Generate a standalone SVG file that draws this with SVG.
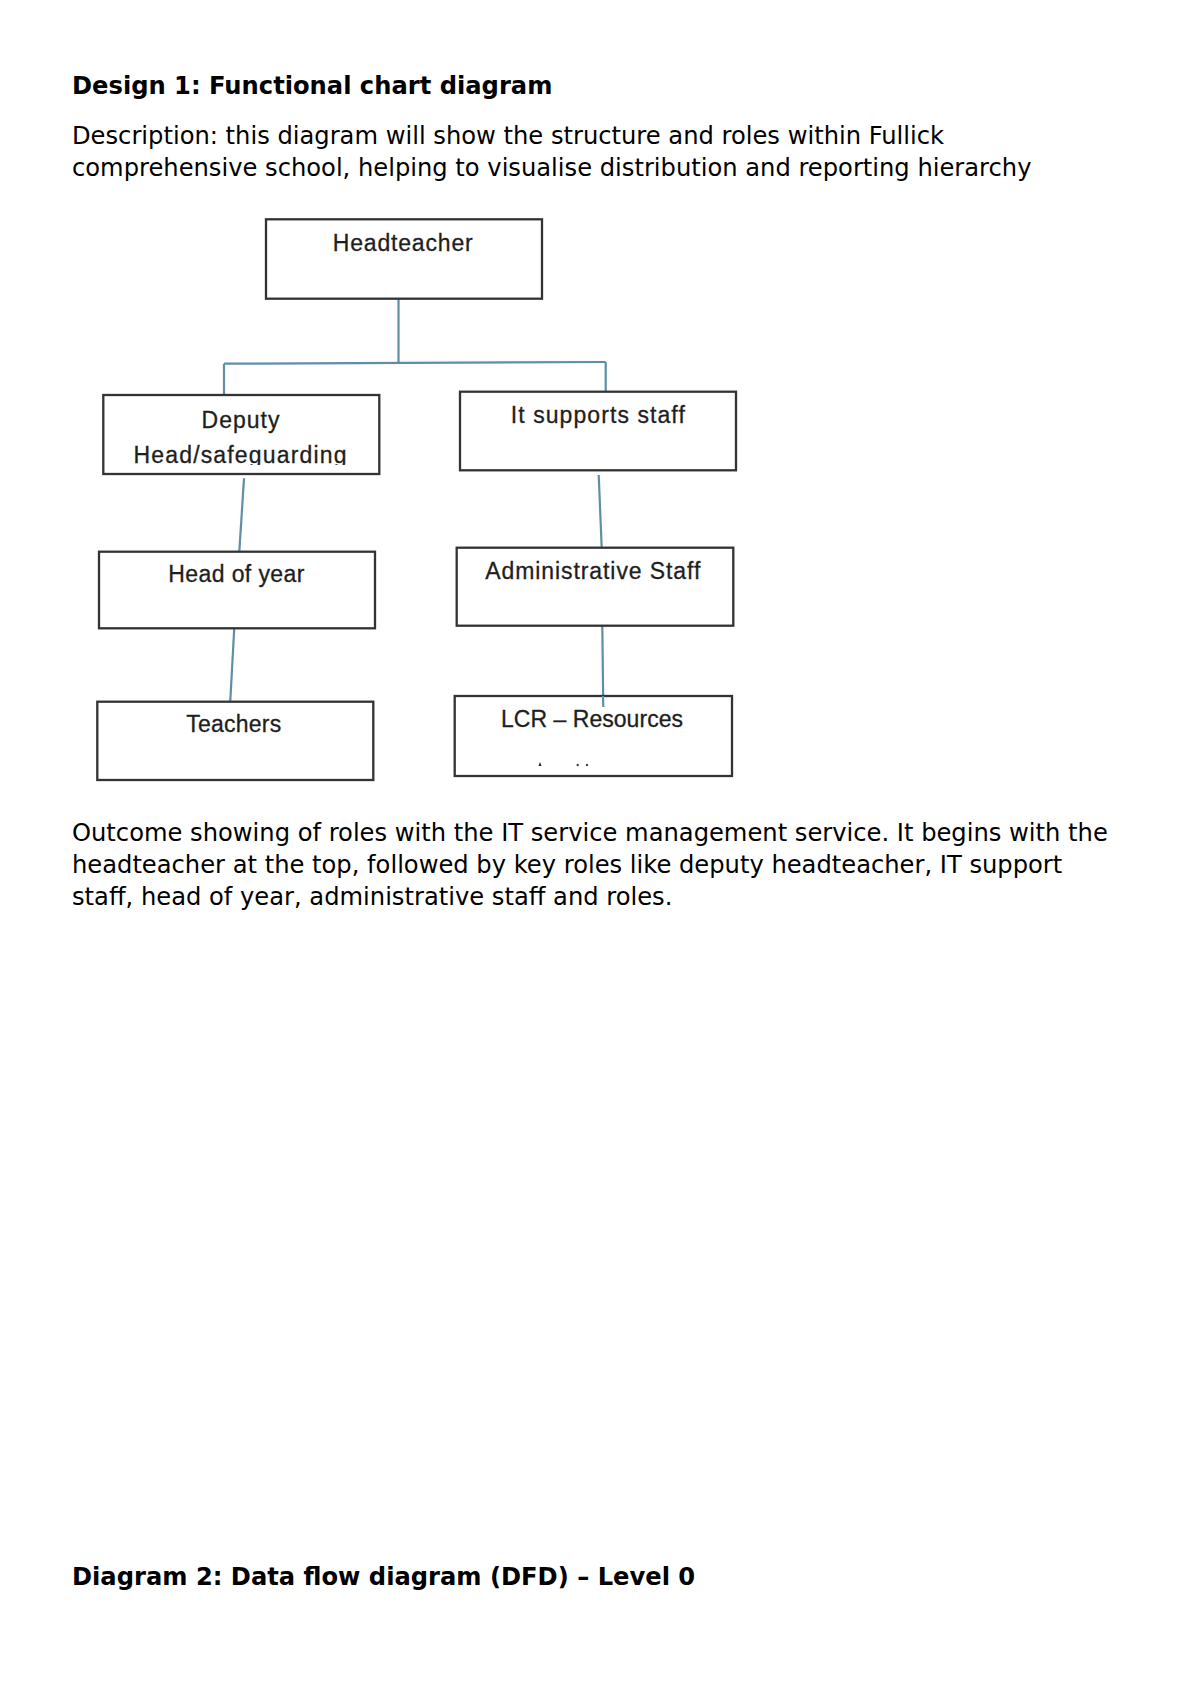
<svg xmlns="http://www.w3.org/2000/svg" width="1200" height="1696" viewBox="0 0 1200 1696">
<style>
.doc{font-family:"DejaVu Sans",Verdana,sans-serif;font-size:24.2px;fill:#000}
.bold{font-weight:bold}
.box{fill:#fff;stroke:#333;stroke-width:2.3}
.lbl{font-family:"Liberation Sans",Arial,sans-serif;font-size:23px;fill:#1e1e1e;text-anchor:middle;stroke:#1e1e1e;stroke-width:0.3}
.con{stroke:#5f8ea6;stroke-width:2.2;fill:none}
</style>
<defs>
<clipPath id="depClip"><rect x="100" y="395" width="285" height="70"/></clipPath>
</defs>
<rect width="1200" height="1696" fill="#fff"/>
<g id="texts">
<text class="doc bold" x="72" y="94">Design 1: Functional chart diagram</text>
<text class="doc" x="72" y="144">Description: this diagram will show the structure and roles within Fullick</text>
<text class="doc" x="72" y="175.5">comprehensive school, helping to visualise distribution and reporting hierarchy</text>
<text class="doc" x="72" y="841">Outcome showing of roles with the IT service management service. It begins with the</text>
<text class="doc" x="72" y="872.5">headteacher at the top, followed by key roles like deputy headteacher, IT support</text>
<text class="doc" x="72" y="905">staff, head of year, administrative staff and roles.</text>
<text class="doc bold" x="72" y="1585">Diagram 2: Data flow diagram (DFD) – Level 0</text>
</g>
<g id="connectors">
<path class="con" d="M398.5 298.7 L398.5 363"/>
<path class="con" d="M224 363.7 L605.7 362"/>
<path class="con" d="M224 363.7 L224 400.7"/>
<path class="con" d="M605.7 362 L605.7 391.7"/>
<path class="con" d="M244 478.3 L239.3 551.7"/>
<path class="con" d="M234.3 627.3 L230 706"/>
<path class="con" d="M598.7 475 L601.7 547.7"/>
<path class="con" d="M602.3 625.7 L603.3 707"/>
</g>
<g id="headteacher">
<rect class="box" x="266" y="219.3" width="276" height="79.4"/>
<text class="lbl" x="402.7" y="251" textLength="140">Headteacher</text>
</g>
<g id="deputy">
<rect class="box" x="103.3" y="395" width="276" height="79"/>
<text class="lbl" x="240.5" y="427.7" textLength="78">Deputy</text>
<text class="lbl" x="240" y="462.7" textLength="213" clip-path="url(#depClip)">Head/safeguarding</text>
</g>
<g id="it-support">
<rect class="box" x="460" y="391.7" width="276" height="78.6"/>
<text class="lbl" x="597.8" y="422.7" textLength="174">It supports staff</text>
</g>
<g id="head-of-year">
<rect class="box" x="99" y="551.7" width="276" height="76.6"/>
<text class="lbl" x="236.3" y="581.7" textLength="136">Head of year</text>
</g>
<g id="admin-staff">
<rect class="box" x="456.7" y="547.7" width="276.6" height="78"/>
<text class="lbl" x="592.8" y="579" textLength="215">Administrative Staff</text>
</g>
<g id="teachers">
<rect class="box" x="97.3" y="701.7" width="276" height="78.3"/>
<text class="lbl" x="233.7" y="731.7" textLength="95">Teachers</text>
</g>
<g id="lcr-resources">
<rect class="box" x="454.7" y="696" width="277.3" height="80"/>
<path class="con" d="M603 696 L603.3 707"/>
<text class="lbl" x="592" y="726.7" textLength="182">LCR – Resources</text>
<path d="M538.5 766 L540 762 L541.5 766 Z" fill="#222"/>
<circle cx="577.7" cy="765" r="1.2" fill="#444"/>
<circle cx="587" cy="765" r="1.2" fill="#444"/>
</g>
</svg>
